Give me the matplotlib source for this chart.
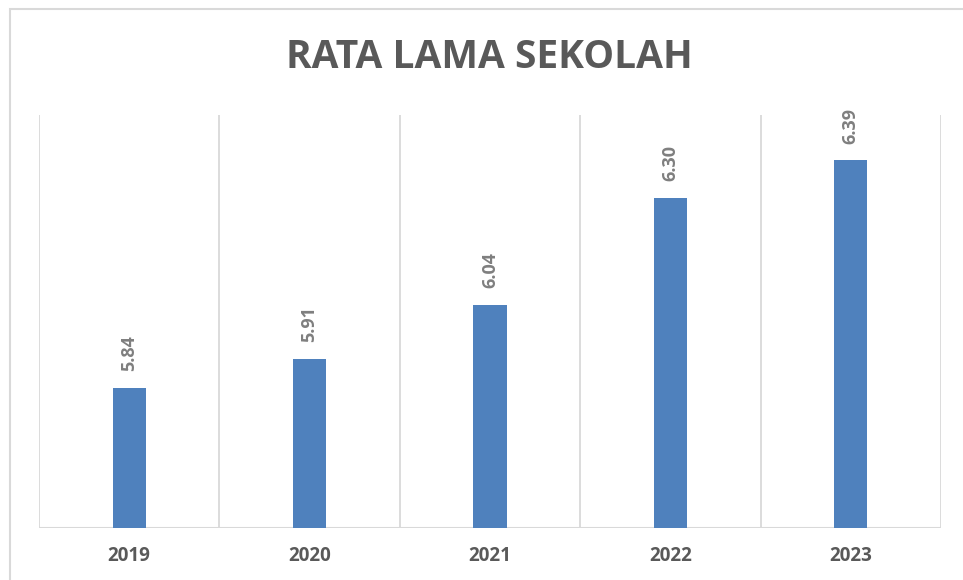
import matplotlib
matplotlib.use("Agg")
import matplotlib.pyplot as plt
from matplotlib.patches import Rectangle

# data
years = ["2019", "2020", "2021", "2022", "2023"]
values = [5.84, 5.91, 6.04, 6.30, 6.39]
labels = ["5.84", "5.91", "6.04", "6.30", "6.39"]

plt.rcParams['font.family'] = ['Open Sans', 'DejaVu Sans']

fig = plt.figure(figsize=(9.63, 5.8), dpi=100)
ax = fig.add_axes([39 / 963, 52 / 580, 902 / 963, 413 / 580])

# outer chart border
fig.patches.append(Rectangle((10 / 963, -0.05), 1.0, 1.0 - 9 / 580 + 0.05,
                             transform=fig.transFigure,
                             fill=False, edgecolor='#d9d9d9', linewidth=1.5))

x = range(len(years))
ax.bar(x, [v - 5.5 for v in values], bottom=5.5, width=0.185, color='#4f81bd', zorder=3)

ax.set_xlim(-0.5, len(years) - 0.5)
ax.set_ylim(5.5, 6.5)

# vertical separators between categories
for b in [i - 0.5 for i in range(len(years) + 1)]:
    ax.axvline(b, color='#d9d9d9', linewidth=1.3, zorder=1)

for s in ax.spines.values():
    s.set_visible(False)
ax.axhline(5.5, color='#d9d9d9', linewidth=1.5, zorder=2)

ax.set_yticks([])
ax.set_xticks(list(x))
ax.set_xticklabels(years, fontsize=13.5, fontweight='bold', color='#595959')
ax.tick_params(axis='x', length=0, pad=13)

for i, v in enumerate(values):
    ax.annotate(labels[i], (i, v), xytext=(0, 12), textcoords='offset points',
                rotation=90, ha='center', va='bottom', fontsize=13,
                fontweight='bold', color='#7f7f7f')

fig.text(489 / 963, 1 - 57 / 580, "RATA LAMA SEKOLAH", ha='center', va='center',
         fontsize=28, fontweight='bold', color='#595959')

fig.savefig("out.png", dpi=100)
